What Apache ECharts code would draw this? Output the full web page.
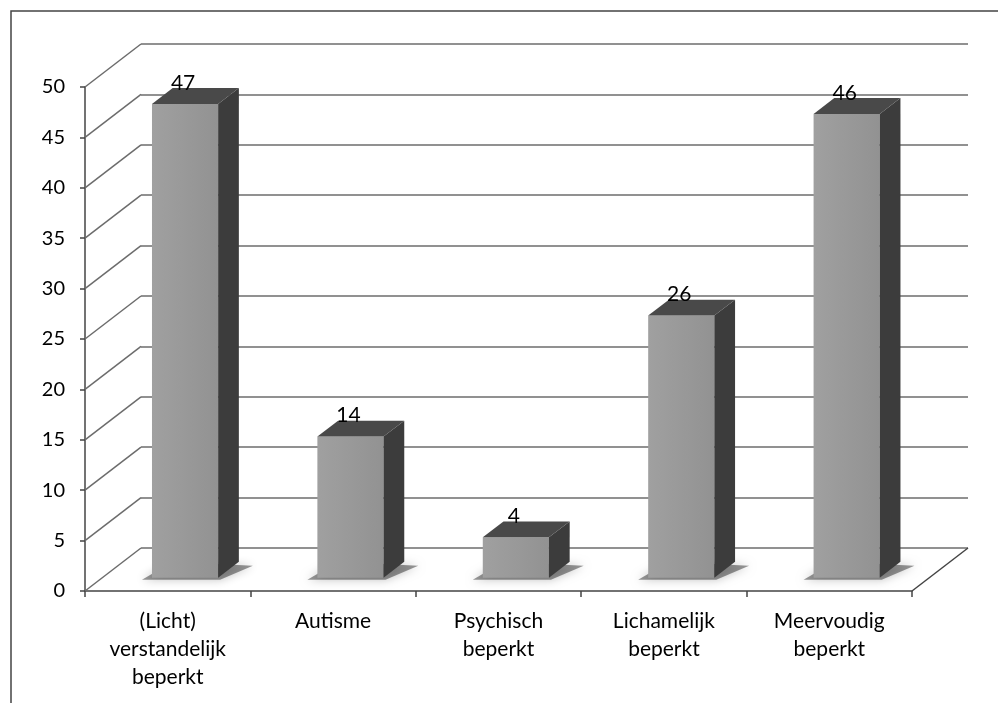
<!DOCTYPE html>
<html><head><meta charset="utf-8">
<script src="https://cdn.jsdelivr.net/npm/echarts/dist/echarts.min.js"></script>
<style>html,body{margin:0;padding:0;background:#fff}#c{width:998px;height:703px}</style>
</head><body><div id="c"></div>
<script>
// ---- data ----
const categories = ['(Licht)\nverstandelijk\nbeperkt', 'Autisme', 'Psychisch\nbeperkt', 'Lichamelijk\nbeperkt', 'Meervoudig\nbeperkt'];
const values = [47, 14, 4, 26, 46];
const tickValues = [0, 5, 10, 15, 20, 25, 30, 35, 40, 45, 50];
const yMin = 0, yMax = 50, yInterval = 5;

// ---- style / layout ----
const FONT = 'Lato, "Liberation Sans", sans-serif';
const DEPTH = [56, -43];      // 3D depth vector (px)
const BAR_FRONT = 0.31, BAR_BACK = 0.68, BAR_W = 0.40;
const GRID_COLOR = '#6c6c6c';

const chart = echarts.init(document.getElementById('c'));

function wallItem(params, api) {
  const v = api.value(1);
  const cs = params.coordSys;
  const y = api.coord([0, v])[1];
  const x = cs.x;
  const children = [{
    type: 'line',
    shape: { x1: x, y1: y, x2: x + DEPTH[0], y2: y + DEPTH[1] },
    style: { stroke: GRID_COLOR, lineWidth: 1.5 }
  }];
  if (v === 0) {
    const xr = cs.x + cs.width;
    children.push({
      type: 'line',
      shape: { x1: xr, y1: y, x2: xr + DEPTH[0], y2: y + DEPTH[1] },
      style: { stroke: '#444', lineWidth: 1.5 }
    });
  }
  return { type: 'group', children };
}

function barItem(params, api) {
  const i = api.value(0), v = api.value(1);
  const base = api.coord([i, 0]);
  const top = api.coord([i, v]);
  const band = api.size([1, 0])[0];
  const w = band * BAR_W;
  const fx = base[0] + DEPTH[0] * BAR_FRONT;
  const yb = base[1] + DEPTH[1] * BAR_FRONT;
  const yt = top[1] + DEPTH[1] * BAR_FRONT;
  const x0 = fx - w / 2, x1 = fx + w / 2;
  const dx = DEPTH[0] * (BAR_BACK - BAR_FRONT), dy = DEPTH[1] * (BAR_BACK - BAR_FRONT);
  return {
    type: 'group',
    children: [
      { type: 'polygon',
        shape: { points: [[x0 - 10, yb + 2], [x1 + 2, yb + 2], [x1 + dx + 14, yb + dy + 4], [x0 + dx, yb + dy]] },
        style: { fill: 'rgba(0,0,0,0.4)', shadowBlur: 10, shadowColor: 'rgba(0,0,0,0.6)' } },
      { type: 'rect', shape: { x: x0, y: yt, width: w, height: yb - yt },
        style: { fill: new echarts.graphic.LinearGradient(0, 0, 1, 0, [{ offset: 0, color: '#a0a0a0' }, { offset: 1, color: '#929292' }]) } },
      { type: 'polygon', shape: { points: [[x1, yb], [x1, yt], [x1 + dx, yt + dy], [x1 + dx, yb + dy]] },
        style: { fill: '#3c3c3c' } },
      { type: 'polygon', shape: { points: [[x0, yt], [x1, yt], [x1 + dx, yt + dy], [x0 + dx, yt + dy]] },
        style: { fill: '#494949' } },
      { type: 'text',
        style: { x: fx - 2, y: yt + dy - 5, text: String(v), fill: '#000', font: '21px ' + FONT, textAlign: 'center', textVerticalAlign: 'middle' } }
    ]
  };
}

chart.setOption({
  animation: false,
  backgroundColor: '#fff',
  graphic: [{
    type: 'rect', shape: { x: 11, y: 11, width: 1000, height: 720 },
    style: { fill: 'none', stroke: '#444', lineWidth: 1.5 }, silent: true, z: -10
  }],
  grid: [
    { left: 85, top: 87, width: 827, height: 504 },
    { left: 85 + DEPTH[0], top: 87 + DEPTH[1], width: 827, height: 504 }
  ],
  xAxis: [
    { type: 'category', gridIndex: 0, data: categories,
      axisLine: { lineStyle: { color: '#444', width: 1.5 } },
      axisTick: { show: true, length: 6, lineStyle: { color: '#444', width: 1.5 } },
      axisLabel: { interval: 0, fontSize: 21, lineHeight: 28, color: '#000', fontFamily: FONT, margin: 16 },
      splitLine: { show: false } },
    { type: 'category', gridIndex: 1, data: categories, show: false }
  ],
  yAxis: [
    { type: 'value', gridIndex: 0, min: yMin, max: yMax, interval: yInterval,
      axisLine: { show: true, lineStyle: { color: '#444', width: 1.5 } },
      axisTick: { show: true, length: 5, lineStyle: { color: '#444', width: 1.5 } },
      axisLabel: { fontSize: 20, color: '#000', fontFamily: FONT, margin: 20 },
      splitLine: { show: false } },
    { type: 'value', gridIndex: 1, min: yMin, max: yMax, interval: yInterval,
      axisLine: { show: false }, axisTick: { show: false }, axisLabel: { show: false },
      splitLine: { show: true, lineStyle: { color: GRID_COLOR, width: 1.5 } } }
  ],
  series: [
    { type: 'custom', name: 'walls', xAxisIndex: 0, yAxisIndex: 0, silent: true, z: 1,
      data: tickValues.map(v => [0, v]), encode: { x: 0, y: 1 }, renderItem: wallItem, clip: false },
    { type: 'custom', name: 'bars', xAxisIndex: 0, yAxisIndex: 0, z: 3,
      data: values.map((v, i) => [i, v]), encode: { x: 0, y: 1 }, renderItem: barItem, clip: false }
  ]
});
</script>
</body></html>
